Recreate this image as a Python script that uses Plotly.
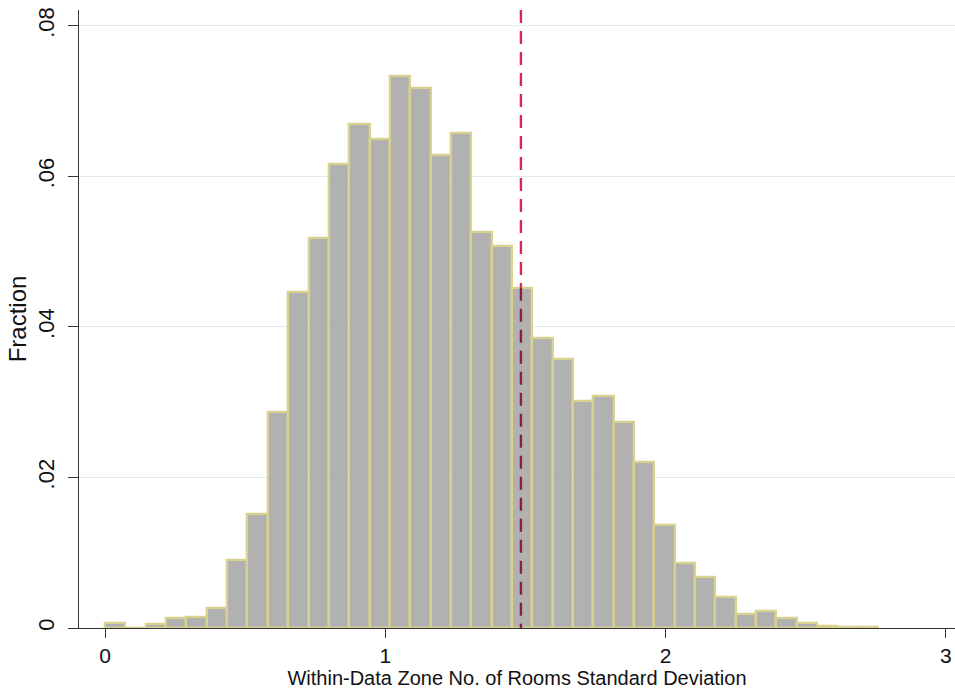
import plotly.graph_objects as go

# Histogram of within-data-zone standard deviation of number of rooms
bin_start = 0.0
bin_width = 0.0726
fractions = [
    0.0006, 0.0000, 0.0005, 0.0013, 0.0015, 0.0026, 0.0090, 0.0152,
    0.0287, 0.0446, 0.0518, 0.0616, 0.0669, 0.0650, 0.0733, 0.0718,
    0.0629, 0.0657, 0.0526, 0.0507, 0.0452, 0.0385, 0.0357, 0.0301,
    0.0308, 0.0274, 0.0221, 0.0137, 0.0087, 0.0068, 0.0041, 0.0019,
    0.0022, 0.0013, 0.0006, 0.0002, 0.0001, 0.0001,
]
threshold = 1.484

x_ticks = [0, 1, 2, 3]
x_tick_text = ["0", "1", "2", "3"]
y_ticks = [0, 0.02, 0.04, 0.06, 0.08]
y_tick_text = ["0", ".02", ".04", ".06", ".08"]

centers = [bin_start + (i + 0.5) * bin_width for i in range(len(fractions))]

# height of the bar that the reference line passes through
bar_idx = int((threshold - bin_start) // bin_width)
bar_top = fractions[bar_idx]

FONT = "Liberation Sans, Arial, sans-serif"

fig = go.Figure()
fig.add_trace(go.Bar(
    x=centers,
    y=fractions,
    width=bin_width,
    marker=dict(color="rgba(166,166,166,0.88)",
                line=dict(color="#d9d28f", width=2.3)),
    hoverinfo="skip",
))

# dashed reference line: darker where it crosses the bar
fig.add_shape(type="line", xref="x", yref="y",
              x0=threshold, x1=threshold, y0=0.0821, y1=bar_top,
              line=dict(color="#d6275c", width=2.4, dash="13px,8px"),
              layer="above")
fig.add_shape(type="line", xref="x", yref="y",
              x0=threshold, x1=threshold, y0=bar_top, y1=0,
              line=dict(color="#8e1d3f", width=2.4, dash="13px,8px"),
              layer="above")

fig.update_layout(
    width=955, height=691,
    margin=dict(l=79, r=0, t=10, b=63),
    paper_bgcolor="white", plot_bgcolor="white",
    bargap=0, showlegend=False,
    font=dict(family=FONT, color="#111111"),
)
fig.update_xaxes(
    range=[-0.093, 3.033],
    tickvals=x_ticks, ticktext=x_tick_text,
    tickfont=dict(size=21, family=FONT),
    ticks="outside", ticklen=9, tickwidth=1.3, tickcolor="#333333",
    showline=True, linecolor="#333333", linewidth=1.4,
    showgrid=False, zeroline=False,
    title=dict(text="Within-Data Zone No. of Rooms Standard Deviation",
               font=dict(size=20, family=FONT), standoff=2),
)
fig.update_yaxes(
    range=[0, 0.0821],
    tickvals=y_ticks, ticktext=y_tick_text,
    tickangle=-90,
    tickfont=dict(size=22, family=FONT),
    ticks="outside", ticklen=10, tickwidth=1.3, tickcolor="#333333",
    ticklabelstandoff=5,
    showline=True, linecolor="#333333", linewidth=1.4,
    showgrid=True, gridcolor="#e0eaea", gridwidth=1,
    zeroline=False,
    title=dict(text="Fraction", font=dict(size=24, family=FONT), standoff=0),
)

fig.write_html("out.html")
